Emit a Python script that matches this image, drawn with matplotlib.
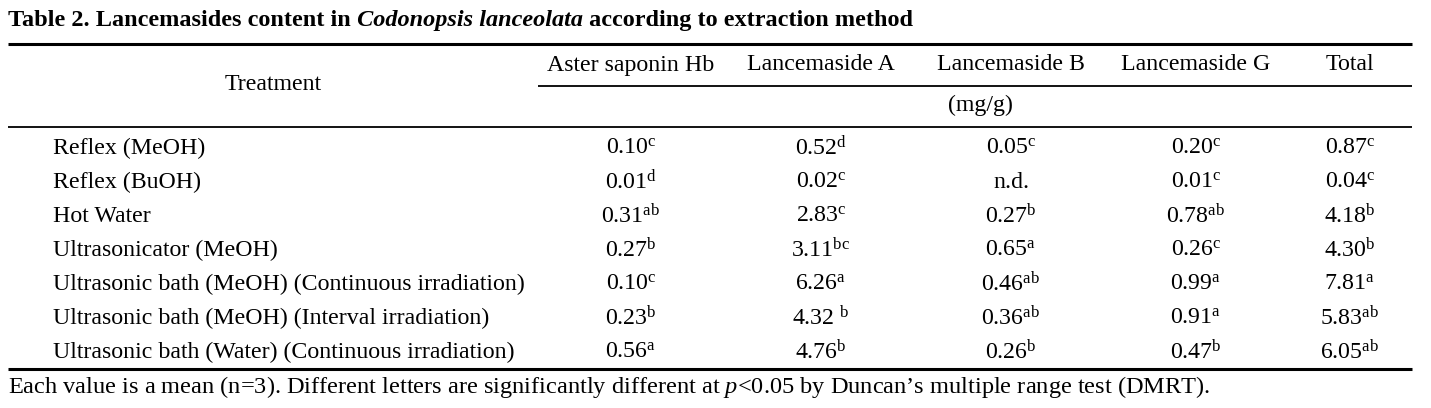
import matplotlib
matplotlib.use("Agg")
import matplotlib.pyplot as plt

plt.rcParams['font.family'] = ['Liberation Serif', 'DejaVu Serif']
plt.rcParams['mathtext.fontset'] = 'custom'
plt.rcParams['mathtext.rm'] = 'Liberation Serif'
plt.rcParams['mathtext.it'] = 'Liberation Serif:italic'
plt.rcParams['mathtext.bf'] = 'Liberation Serif:bold'

# table content
treatments = [
    "Reflex (MeOH)",
    "Reflex (BuOH)",
    "Hot Water",
    "Ultrasonicator (MeOH)",
    "Ultrasonic bath (MeOH) (Continuous irradiation)",
    "Ultrasonic bath (MeOH) (Interval irradiation)",
    "Ultrasonic bath (Water) (Continuous irradiation)",
]
columns = ["Aster saponin Hb", "Lancemaside A", "Lancemaside B", "Lancemaside G", "Total"]

aster_hb = [0.10, 0.01, 0.31, 0.27, 0.10, 0.23, 0.56]
aster_hb_sig = ["c", "d", "ab", "b", "c", "b", "a"]
lanc_a = [0.52, 0.02, 2.83, 3.11, 6.26, 4.32, 4.76]
lanc_a_sig = ["d", "c", "c", "bc", "a", " b", "b"]
lanc_b = [0.05, None, 0.27, 0.65, 0.46, 0.36, 0.26]
lanc_b_sig = ["c", "", "b", "a", "ab", "ab", "b"]
lanc_g = [0.20, 0.01, 0.78, 0.26, 0.99, 0.91, 0.47]
lanc_g_sig = ["c", "c", "ab", "c", "a", "a", "b"]
total = [0.87, 0.04, 4.18, 4.30, 7.81, 5.83, 6.05]
total_sig = ["c", "c", "b", "b", "a", "ab", "ab"]

values = [aster_hb, lanc_a, lanc_b, lanc_g, total]
letters = [aster_hb_sig, lanc_a_sig, lanc_b_sig, lanc_g_sig, total_sig]

fs = 17.2

fig = plt.figure(figsize=(14.31, 4.08), dpi=100)
ax = fig.add_axes([0, 0, 1, 1])
ax.set_xlim(0, 1431)
ax.set_ylim(408, 0)
ax.axis('off')

# title in three pieces (bold / bold italic / bold)
tfs = 17.5
t1 = ax.text(8, 31, "Table 2. Lancemasides content in", fontsize=tfs, fontweight='bold',
             va='bottom', ha='left')
t2 = ax.annotate(" Codonopsis lanceolata", xy=(1, 0), xycoords=t1, fontsize=tfs,
                 fontweight='bold', fontstyle='italic', va='bottom', ha='left')
ax.annotate(" according to extraction method", xy=(1, 0), xycoords=t2, fontsize=tfs,
            fontweight='bold', va='bottom', ha='left')

# rules
x0, x1 = 8, 1412
ax.hlines(44, x0, x1, color='black', lw=2.2)
ax.hlines(86, 538, x1, color='black', lw=1.3)
ax.hlines(127, x0, x1, color='black', lw=1.3)
ax.hlines(369, x0, x1, color='black', lw=2.2)

# header
col_x = [631, 821, 1011, 1196, 1350]
ax.text(273, 85, "Treatment", fontsize=fs, ha='center', va='center')
for cx, name in zip(col_x, columns):
    ax.text(cx, 65, name, fontsize=fs, ha='center', va='center')
ax.text(980, 105, "(mg/g)", fontsize=fs, ha='center', va='center')

# body
row_y = [148 + 34 * i for i in range(len(treatments))]
for y, name in zip(row_y, treatments):
    ax.text(53, y, name, fontsize=fs, ha='left', va='center')

for cx, vals, sigs in zip(col_x, values, letters):
    for y, v, s in zip(row_y, vals, sigs):
        if v is None:
            cell = "n.d."
        else:
            sp = r"\,\," if s.startswith(" ") else ""
            cell = r"$\mathrm{%.2f}%s^{\mathrm{%s}}$" % (v, sp, s.strip())
        ax.text(cx, y, cell, fontsize=fs, ha='center', va='center')

# footnote
ax.text(8, 387, "Each value is a mean (n=3). Different letters are significantly different at "
        r"$\mathit{p}$<0.05 by Duncan’s multiple range test (DMRT).",
        fontsize=17.6, ha='left', va='center')

fig.savefig("out.png", dpi=100)
